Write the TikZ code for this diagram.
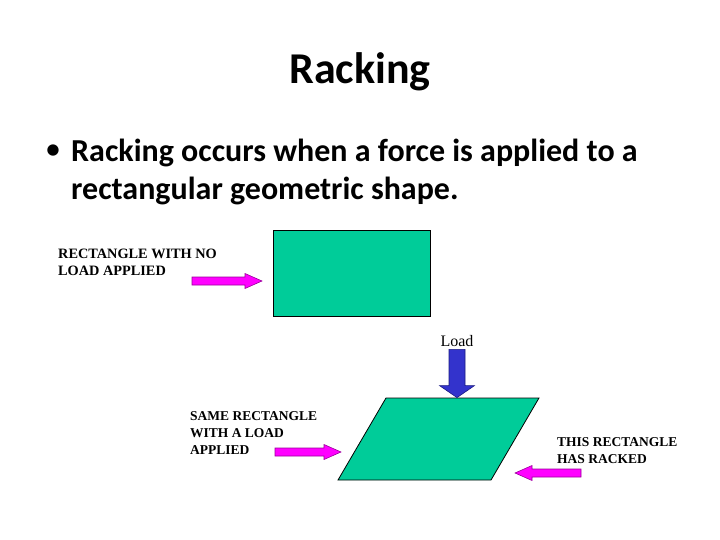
\documentclass[tikz,border=0pt]{standalone}
\usepackage{fontspec}
\setmainfont{Carlito}
\newfontfamily\timesf{Liberation Serif}
\usetikzlibrary{calc}

\definecolor{slabgreen}{HTML}{00CC99}
\definecolor{pushpink}{HTML}{FF00FF}
\definecolor{pushedge}{HTML}{990099}
\definecolor{loadblue}{HTML}{3333CC}
\definecolor{loadedge}{HTML}{1A1A80}

\tikzset{
  % block arrow between two points: {shaft half}{head half}{head length}
  blockarrow/.style n args={3}{to path={
    ($(\tikztostart)!#1!90:(\tikztotarget)$)
    -- ($(\tikztotarget)!#3!(\tikztostart)!#1!90:(\tikztotarget)$)
    -- ($(\tikztotarget)!#3!(\tikztostart)!#2!90:(\tikztotarget)$)
    -- (\tikztotarget)
    -- ($(\tikztotarget)!#3!(\tikztostart)!#2!-90:(\tikztotarget)$)
    -- ($(\tikztotarget)!#3!(\tikztostart)!#1!-90:(\tikztotarget)$)
    -- ($(\tikztostart)!#1!-90:(\tikztotarget)$)
    -- cycle}},
  pusharrow/.style={blockarrow={4pt}{7.5pt}{17pt}, fill=pushpink, draw=pushedge, line width=0.6pt},
  loadarrow/.style={blockarrow={8pt}{17.5pt}{12pt}, fill=loadblue, draw=loadedge, line width=0.6pt},
  slab/.style={draw=black, fill=slabgreen, line width=0.8pt, inner sep=0pt},
  caption/.style={font=\timesf\bfseries\fontsize{13.5}{17}\selectfont, align=left, inner sep=0pt},
}

\begin{document}
\begin{tikzpicture}[x=1pt, y=-1pt]
  \useasboundingbox (0,0) rectangle (720,540);

  \node[anchor=base, font=\bfseries\fontsize{44}{53}\selectfont, inner sep=0pt] (title) at (360,84) {Racking};

  \node[anchor=base west, inner sep=0pt, font=\fontsize{32}{38}\selectfont] (bullet) at (45,160) {\textbullet};
  \node[anchor=base west, inner sep=0pt, font=\bfseries\fontsize{32}{38}\selectfont, align=left] (point) at (71,200)
    {Racking occurs when a force is applied to a\\rectangular geometric shape.};

  % the two shapes
  \node[slab, minimum width=157pt, minimum height=86pt] (square) at (351.5,273) {};
  \node[slab, minimum width=153pt, minimum height=82pt, xslant=0.585, transform shape] (racked) at (438.5,439) {};

  % captions
  \node[caption, anchor=base west, font=\timesf\bfseries\fontsize{14.3}{17}\selectfont] (nolabel) at (58,275) {RECTANGLE WITH NO\\LOAD APPLIED};
  \node[caption, anchor=base west] (loadlabel) at (190,454) {SAME RECTANGLE\\WITH A LOAD\\APPLIED};
  \node[caption, anchor=base west] (rackedlabel) at (557,463) {THIS RECTANGLE\\HAS RACKED};
  \node[font=\timesf\fontsize{16}{19}\selectfont, anchor=base, inner sep=0pt] (load) at (457,346) {Load};

  \coordinate (s1) at (192,281);
  \coordinate (e1) at (262,281);
  \coordinate (s2) at (275,452);
  \coordinate (e2) at (341,452);
  \coordinate (s3) at (581,473);
  \coordinate (e3) at (515,473);

  \draw[pusharrow] (s1) to (e1);
  \draw[pusharrow] (s2) to (e2);
  \draw[pusharrow] (s3) to (e3);
  \draw[loadarrow] ([yshift=-3pt]load.south) to (load.south |- racked.north);
\end{tikzpicture}
\end{document}
